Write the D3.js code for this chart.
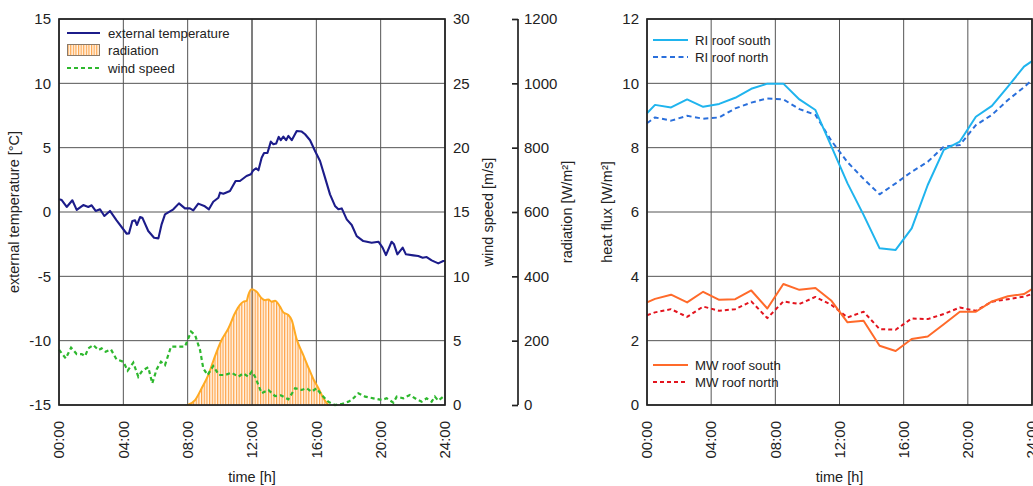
<!DOCTYPE html>
<html><head><meta charset="utf-8">
<script src="https://cdn.jsdelivr.net/npm/d3@7"></script>
<style>
body{margin:0;background:#fff;}
svg{display:block;font-family:"Liberation Sans",Arial,sans-serif;}
</style></head>
<body><svg id="c" width="1033" height="486"></svg>
<script>
// ---------- data ----------
const timeTicks = [0, 4, 8, 12, 16, 20, 24];
const timeTickLabels = ["00:00", "04:00", "08:00", "12:00", "16:00", "20:00", "24:00"];
const tempTicks = [-15, -10, -5, 0, 5, 10, 15];
const windTicks = [0, 5, 10, 15, 20, 25, 30];
const radTicks = [0, 200, 400, 600, 800, 1000, 1200];
const fluxTicks = [0, 2, 4, 6, 8, 10, 12];

const tempTime = [0,0.17,0.48,0.83,1.10,1.51,1.82,2.03,2.28,2.55,2.82,3.17,3.58,4.21,4.35,4.56,4.73,4.85,5.04,5.18,5.55,5.91,6.18,6.38,6.59,7.11,7.46,7.83,8.14,8.35,8.66,9.03,9.32,9.59,9.91,10.01,10.22,10.63,10.98,11.25,11.66,11.93,12.08,12.25,12.40,12.60,12.75,12.96,13.17,13.33,13.50,13.66,13.79,13.95,14.12,14.26,14.47,14.78,15.09,15.30,15.61,15.92,16.23,16.54,16.85,17.16,17.37,17.58,17.89,18.20,18.51,18.92,19.44,19.86,20.12,20.33,20.68,20.83,21.04,21.37,21.57,22.03,22.34,22.61,22.86,23.17,23.58,23.89,24.0];
const tempValue = [1.00,0.93,0.39,0.91,0.16,0.54,0.39,0.52,0.08,0.21,-0.31,0.08,-0.65,-1.69,-1.66,-0.70,-0.65,-1.01,-0.39,-0.44,-1.48,-2.00,-2.05,-0.96,-0.18,0.21,0.67,0.28,0.28,0.13,0.65,0.47,0.21,0.80,1.11,1.50,1.42,1.63,2.41,2.41,2.80,2.93,3.24,3.40,3.24,4.22,4.59,4.59,5.47,5.27,5.32,5.84,5.58,5.86,5.58,5.91,5.58,6.30,6.25,6.04,5.58,4.74,3.96,2.67,1.37,0.47,0.21,0.28,-0.57,-1.01,-1.87,-2.26,-2.39,-2.31,-2.77,-3.35,-2.31,-2.51,-3.29,-2.77,-3.29,-3.37,-3.42,-3.55,-3.50,-3.76,-3.99,-3.81,-3.81];

const windTime = [0,0.42,0.75,1.10,1.41,1.62,1.82,2.13,2.45,2.65,2.90,3.23,3.58,4.00,4.27,4.62,4.93,5.18,5.55,5.80,6.07,6.34,6.59,6.96,7.42,7.83,8.04,8.21,8.46,8.77,8.97,9.24,9.59,9.95,10.32,10.73,11.15,11.46,11.77,11.98,12.19,12.60,13.02,13.43,13.80,14.26,14.68,15.09,15.40,15.71,16.02,16.33,16.74,17.16,17.58,17.99,18.20,18.61,19.03,19.55,20.06,20.37,20.79,21.00,21.41,21.82,22.24,22.55,22.86,23.17,23.37,23.58,23.89,24.0];
const windValue = [4.30,3.62,4.46,3.96,3.96,3.80,4.40,4.66,4.27,4.40,4.14,4.32,3.54,3.36,2.67,3.29,2.20,2.67,2.93,1.68,2.77,3.36,3.10,4.53,4.53,4.53,5.18,5.70,5.44,4.27,2.85,2.33,3.03,2.33,2.33,2.51,2.20,2.46,2.20,2.59,2.20,0.91,1.17,0.70,0.75,0.44,1.30,1.17,1.30,1.04,1.30,0.78,0.26,0.00,0.08,0.26,0.39,0.91,0.65,0.52,0.39,0.52,0.18,0.65,0.52,0.78,0.44,0.26,0.52,0.26,0.65,0.34,0.65,0.60];

const radTime = [8.0,8.46,8.87,9.28,9.70,10.11,10.53,10.94,11.25,11.46,11.67,11.77,11.98,12.29,12.60,12.81,13.02,13.22,13.43,13.74,13.95,14.26,14.47,14.78,15.19,15.57,15.82,16.13,16.44,16.74];
const radValue = [0,15,52,93,152,202,238,285,311,321,324,342,360,352,332,326,328,321,324,306,288,280,264,204,155,109,80,52,21,0];

const fluxTime = [0,0.5,1.5,2.5,3.5,4.5,5.5,6.5,7.5,8.5,9.5,10.5,11.5,12.5,13.5,14.5,15.5,16.5,17.5,18.5,19.5,20.5,21.5,22.5,23.5,24];
const riSouth = [9.07,9.33,9.25,9.50,9.27,9.36,9.55,9.83,9.99,9.99,9.50,9.17,8.03,6.89,5.91,4.87,4.82,5.49,6.84,7.93,8.19,8.96,9.30,9.90,10.52,10.69];
const riNorth = [8.76,8.94,8.84,8.99,8.90,8.94,9.22,9.40,9.53,9.50,9.20,9.02,8.21,7.55,7.03,6.55,6.89,7.25,7.56,8.03,8.08,8.70,9.02,9.48,9.88,10.10];
const mwSouth = [3.19,3.30,3.43,3.19,3.52,3.27,3.29,3.56,3.00,3.76,3.58,3.64,3.24,2.57,2.62,1.84,1.68,2.05,2.13,2.51,2.90,2.90,3.22,3.38,3.45,3.60];
const mwNorth = [2.79,2.88,2.98,2.74,3.06,2.93,2.98,3.22,2.70,3.22,3.14,3.36,3.11,2.72,2.90,2.36,2.34,2.69,2.67,2.83,3.03,2.93,3.21,3.29,3.37,3.45];

// ---------- drawing ----------
const svg = d3.select("#c");
const FONT_TICK = "15px", FONT_TITLE = "14.5px", FONT_LEG = "13.2px";
const GRID = "#555", FRAME = "#222", TXT = "#222";

const TOP = 19, BOT = 405;
const xL = d3.scaleLinear().domain([0, 24]).range([59, 445]);
const yT = d3.scaleLinear().domain([-15, 15]).range([BOT, TOP]);
const yW = d3.scaleLinear().domain([0, 30]).range([BOT, TOP]);
const yR = d3.scaleLinear().domain([0, 1200]).range([BOT, TOP]);
const xR = d3.scaleLinear().domain([0, 24]).range([647, 1032]);
const yH = d3.scaleLinear().domain([0, 12]).range([BOT, TOP]);

const defs = svg.append("defs");
const pat = defs.append("pattern").attr("id", "hatch").attr("patternUnits", "userSpaceOnUse")
  .attr("x", 59).attr("y", 0).attr("width", 16.08 / 6).attr("height", 10);
pat.append("rect").attr("width", 16.08 / 6).attr("height", 10).attr("fill", "#fff6ea");
pat.append("line").attr("x1", 0.6).attr("x2", 0.6).attr("y1", 0).attr("y2", 10)
  .attr("stroke", "#ff9f40").attr("stroke-width", 1.15);
const pat2 = defs.append("pattern").attr("id", "hatch2").attr("patternUnits", "userSpaceOnUse")
  .attr("x", 0).attr("y", 0).attr("width", 2.6).attr("height", 10);
pat2.append("rect").attr("width", 2.6).attr("height", 10).attr("fill", "#fff6ea");
pat2.append("line").attr("x1", 0.6).attr("x2", 0.6).attr("y1", 0).attr("y2", 10)
  .attr("stroke", "#ff9f40").attr("stroke-width", 1.1);

function grid(g, x, y, yTicks) {
  g.append("g").selectAll("line").data(timeTicks).join("line")
    .attr("x1", d => x(d)).attr("x2", d => x(d)).attr("y1", TOP).attr("y2", BOT)
    .attr("stroke", GRID).attr("stroke-width", 1);
  g.append("g").selectAll("line").data(yTicks).join("line")
    .attr("x1", x.range()[0]).attr("x2", x.range()[1]).attr("y1", d => y(d)).attr("y2", d => y(d))
    .attr("stroke", GRID).attr("stroke-width", 1);
}
function frame(g, x) {
  g.append("rect").attr("x", x.range()[0]).attr("y", TOP)
    .attr("width", x.range()[1] - x.range()[0]).attr("height", BOT - TOP)
    .attr("fill", "none").attr("stroke", FRAME).attr("stroke-width", 1.7);
}
function xLabels(g, x) {
  g.append("g").selectAll("text").data(timeTicks).join("text")
    .attr("transform", d => `translate(${x(d)},421) rotate(-90)`)
    .attr("text-anchor", "end").attr("dy", "0.35em")
    .style("font-size", FONT_TICK).attr("fill", TXT)
    .text((d, i) => timeTickLabels[i]);
  g.append("text").attr("x", (x.range()[0] + x.range()[1]) / 2).attr("y", 482)
    .attr("text-anchor", "middle").style("font-size", FONT_TITLE).attr("fill", TXT).text("time [h]");
}
function vTitle(g, x, text) {
  g.append("text").attr("transform", `translate(${x},212) rotate(-90)`)
    .attr("text-anchor", "middle").style("font-size", FONT_TITLE).attr("fill", TXT).text(text);
}

// ===== left chart =====
const gL = svg.append("g");
grid(gL, xL, yT, tempTicks);

const radData = radTime.map((t, i) => ({t, v: radValue[i]}));
gL.append("path").datum(radData)
  .attr("d", d3.area().x(d => xL(d.t)).y0(yR(0)).y1(d => yR(d.v)).curve(d3.curveMonotoneX))
  .attr("fill", "url(#hatch)");
gL.append("line").attr("x1", xL(12)).attr("x2", xL(12)).attr("y1", TOP).attr("y2", BOT)
  .attr("stroke", GRID).attr("stroke-width", 1);
gL.append("path").datum(radData)
  .attr("d", d3.line().x(d => xL(d.t)).y(d => yR(d.v)).curve(d3.curveMonotoneX))
  .attr("fill", "none").attr("stroke", "#ffaa22").attr("stroke-width", 2);

const windData = windTime.map((t, i) => ({t, v: windValue[i]}));
gL.append("path").datum(windData)
  .attr("d", d3.line().x(d => xL(d.t)).y(d => yW(d.v)))
  .attr("fill", "none").attr("stroke", "#2eb82e").attr("stroke-width", 2.2)
  .attr("stroke-dasharray", "4,3");

const tempData = tempTime.map((t, i) => ({t, v: tempValue[i]}));
gL.append("path").datum(tempData)
  .attr("d", d3.line().x(d => xL(d.t)).y(d => yT(d.v)))
  .attr("fill", "none").attr("stroke", "#1c1c8a").attr("stroke-width", 2.1)
  .attr("stroke-linejoin", "round");

frame(gL, xL);

gL.append("g").selectAll("text").data(tempTicks).join("text")
  .attr("x", 51).attr("y", d => yT(d)).attr("dy", "0.35em").attr("text-anchor", "end")
  .style("font-size", FONT_TICK).attr("fill", TXT).text(d => d);
vTitle(gL, 19, "external temperature [°C]");

gL.append("g").selectAll("text").data(windTicks).join("text")
  .attr("x", 453).attr("y", d => yW(d)).attr("dy", "0.35em").attr("text-anchor", "start")
  .style("font-size", FONT_TICK).attr("fill", TXT).text(d => d);
vTitle(gL, 493, "wind speed [m/s]");

const axR = d3.axisLeft(yR).tickValues(radTicks).tickSize(6).tickFormat("");
const gAx = gL.append("g").attr("transform", "translate(518,0)").call(axR);
gAx.select(".domain").attr("stroke", FRAME).attr("stroke-width", 1.7).attr("d", `M0,${TOP}V${BOT}`);
gAx.selectAll(".tick line").attr("stroke", FRAME).attr("stroke-width", 1.7);
gL.append("g").selectAll("text").data(radTicks).join("text")
  .attr("x", 524).attr("y", d => yR(d)).attr("dy", "0.35em").attr("text-anchor", "start")
  .style("font-size", FONT_TICK).attr("fill", TXT).text(d => d);
vTitle(gL, 572, "radiation [W/m²]");

xLabels(gL, xL);

const lg = gL.append("g");
lg.append("line").attr("x1", 67).attr("x2", 100).attr("y1", 33).attr("y2", 33)
  .attr("stroke", "#1c1c8a").attr("stroke-width", 2);
lg.append("rect").attr("x", 67.5).attr("y", 44.5).attr("width", 32).attr("height", 11)
  .attr("fill", "url(#hatch2)").attr("stroke", "#8a7a6a").attr("stroke-width", 1);
lg.append("line").attr("x1", 67).attr("x2", 100).attr("y1", 68).attr("y2", 68)
  .attr("stroke", "#2eb82e").attr("stroke-width", 2).attr("stroke-dasharray", "4,3");
[["external temperature", 33], ["radiation", 50.5], ["wind speed", 68]].forEach(([t, y]) => {
  lg.append("text").attr("x", 108).attr("y", y).attr("dy", "0.35em")
    .style("font-size", FONT_LEG).attr("fill", TXT).text(t);
});

// ===== right chart =====
const gR = svg.append("g");
grid(gR, xR, yH, fluxTicks);

const series = [
  {v: riNorth, color: "#2a6fdb", dash: "5,3.5"},
  {v: riSouth, color: "#1fb4ee", dash: null},
  {v: mwNorth, color: "#e3141e", dash: "4,3"},
  {v: mwSouth, color: "#ff6a2a", dash: null}
];
series.forEach(s => {
  const p = gR.append("path").datum(fluxTime.map((t, i) => ({t, v: s.v[i]})))
    .attr("d", d3.line().x(d => xR(d.t)).y(d => yH(d.v)))
    .attr("fill", "none").attr("stroke", s.color).attr("stroke-width", 2)
    .attr("stroke-linejoin", "round");
  if (s.dash) p.attr("stroke-dasharray", s.dash);
});
frame(gR, xR);

gR.append("g").selectAll("text").data(fluxTicks).join("text")
  .attr("x", 639).attr("y", d => yH(d)).attr("dy", "0.35em").attr("text-anchor", "end")
  .style("font-size", FONT_TICK).attr("fill", TXT).text(d => d);
vTitle(gR, 612, "heat flux [W/m²]");
xLabels(gR, xR);

const leg2 = [
  {t: "RI roof south", y: 40, c: "#1fb4ee", d: null},
  {t: "RI roof north", y: 57, c: "#2a6fdb", d: "5,3.5"},
  {t: "MW roof south", y: 365, c: "#ff6a2a", d: null},
  {t: "MW roof north", y: 382, c: "#e3141e", d: "4,3"}
];
leg2.forEach(l => {
  const ln = gR.append("line").attr("x1", 653).attr("x2", 688).attr("y1", l.y).attr("y2", l.y)
    .attr("stroke", l.c).attr("stroke-width", 2);
  if (l.d) ln.attr("stroke-dasharray", l.d);
  gR.append("text").attr("x", 695).attr("y", l.y).attr("dy", "0.35em")
    .style("font-size", FONT_LEG).attr("fill", TXT).text(l.t);
});
</script></body></html>
